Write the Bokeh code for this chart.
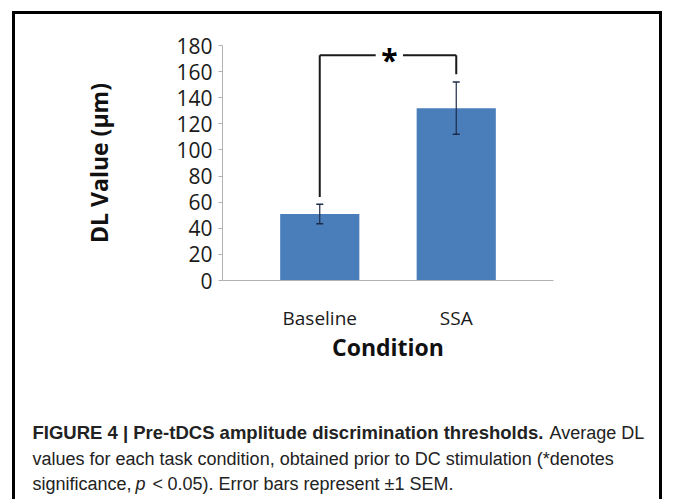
from bokeh.plotting import figure
from bokeh.layouts import column
from bokeh.models import (FactorRange, Range1d, ColumnDataSource, Whisker, TeeHead,
                          FixedTicker)
from bokeh.embed import file_html
from bokeh.resources import INLINE
from bokeh.core.properties import value

# ---------------- data ----------------
categories = ["Baseline", "SSA"]
dl_means = [51, 132]
dl_sem = [7.5, 20]
y_ticks = [0, 20, 40, 60, 80, 100, 120, 140, 160, 180]
sig_top = 172.5        # height of the significance bracket
sig_left_end = 64      # lower end of bracket over Baseline
sig_right_end = 158    # lower end of bracket over SSA
sig_mark = "*"

x_title = "Condition"
y_title = "DL Value (\u03bcm)"
cap_bold = "FIGURE 4 | Pre-tDCS amplitude discrimination thresholds."
cap_1 = "Average DL"
cap_2 = "values for each task condition, obtained prior to DC stimulation (*denotes"
cap_3a = "significance,"
cap_3b = "p"
cap_3c = "<"
cap_3d = "0.05). Error bars represent \u00b11 SEM."

# ---------------- chart figure ----------------
W = 644
H1, H2 = 386, 99
p = figure(width=W, height=H1,
           x_range=FactorRange(factors=categories, range_padding=0.2125),
           y_range=Range1d(0, 180),
           output_backend="svg", toolbar_location=None,
           min_border_left=207, min_border_right=106,
           min_border_top=31, min_border_bottom=120)
p.outline_line_color = None
p.xgrid.grid_line_color = None
p.ygrid.grid_line_color = None
p.background_fill_color = "white"
p.border_fill_color = "white"

src = ColumnDataSource(dict(
    cat=categories,
    mean=dl_means,
    upper=[m + s for m, s in zip(dl_means, dl_sem)],
    lower=[m - s for m, s in zip(dl_means, dl_sem)],
))

p.vbar(x="cat", top="mean", width=0.58, source=src,
       fill_color="#4a7ebb", line_color=None)

err_col = "#1c2a48"
p.add_layout(Whisker(base="cat", upper="upper", lower="lower", source=src,
                     level="overlay",
                     line_color=err_col, line_width=1.2,
                     upper_head=TeeHead(size=7, line_color=err_col, line_width=1.5),
                     lower_head=TeeHead(size=7, line_color=err_col, line_width=1.5)))

# significance bracket
b0, b1 = categories
br = ColumnDataSource(dict(
    x0=[(b0, 0.0), (b0, 0.0), (b1, -0.39), (b1, 0.0)],
    y0=[sig_left_end, sig_top, sig_top, sig_top],
    x1=[(b0, 0.0), (b0, 0.41), (b1, 0.0), (b1, 0.0)],
    y1=[sig_top, sig_top, sig_top, sig_right_end],
))
p.segment(x0="x0", y0="y0", x1="x1", y1="y1", source=br,
          line_color="#1a1a1a", line_width=2)
p.text(x=[(b0, 0.51)], y=[sig_top], text=[sig_mark],
       text_font=value("Open Sans"), text_font_style="bold",
       text_font_size="30px", text_color="black",
       text_align="center", text_baseline="middle", y_offset=4)

# axes
ya = p.yaxis[0]
ya.ticker = FixedTicker(ticks=y_ticks)
ya.minor_tick_line_color = None
ya.axis_line_color = "#b0b0b0"
ya.major_tick_line_color = "#b0b0b0"
ya.major_tick_in = 0
ya.major_tick_out = 4
ya.major_label_standoff = 6
ya.major_label_text_font = "Open Sans"
ya.major_label_text_font_size = "21px"
ya.major_label_text_color = "#1a1a1a"
ya.axis_label = y_title
ya.axis_label_text_font = "Open Sans"
ya.axis_label_text_font_style = "bold"
ya.axis_label_text_font_size = "23px"
ya.axis_label_text_color = "#111111"
ya.axis_label_standoff = 58

xa = p.xaxis[0]
xa.axis_line_color = "#b0b0b0"
xa.major_tick_line_color = None
xa.minor_tick_line_color = None
xa.major_label_standoff = 18
xa.major_label_text_font = "Open Sans"
xa.major_label_text_font_size = "19px"
xa.major_label_text_color = "#1a1a1a"
xa.axis_label = x_title
xa.axis_label_text_font = "Open Sans"
xa.axis_label_text_font_style = "bold"
xa.axis_label_text_font_size = "23px"
xa.axis_label_text_color = "#111111"
xa.axis_label_standoff = -3

# ---------------- caption figure ----------------
q = figure(width=W, height=H2, x_range=Range1d(0, W), y_range=Range1d(H2, 0),
           x_axis_type=None, y_axis_type=None, min_border=0,
           output_backend="svg", toolbar_location=None)
q.outline_line_color = None
q.background_fill_color = "white"
q.border_fill_color = "white"

for fig in (p, q):
    try:
        fig.frame_align = False
    except AttributeError:
        pass

cf = value("Liberation Sans")
cc = "#222222"
def cap(x, y, t, style="normal", size="18px"):
    q.text(x=[x], y=[y], text=[t], text_font=cf, text_font_style=style,
           text_font_size=size, text_color=cc, text_baseline="middle",
           text_align="left")

cap(17, 32, cap_bold, "bold", "18.5px")
cap(534, 32, cap_1)
cap(17, 58, cap_2)
cap(17, 83, cap_3a)
cap(120, 83, cap_3b, "italic")
cap(137, 83, cap_3c)
cap(152, 83, cap_3d)

lay = column(p, q, spacing=0,
             styles={"border-top": "3px solid black",
                     "border-left": "3px solid black",
                     "border-right": "3px solid black",
                     "margin-left": "12px", "margin-top": "11px"})

open("out.html", "w").write(file_html(lay, INLINE))
